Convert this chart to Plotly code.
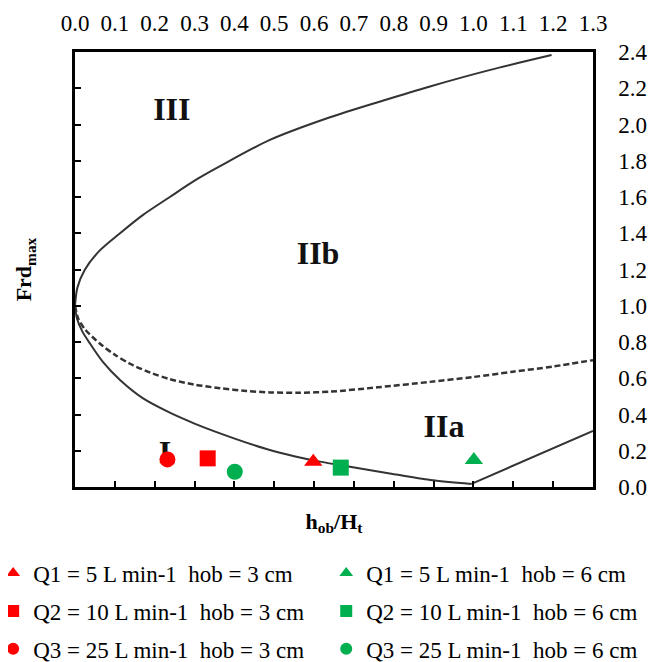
import plotly.graph_objects as go

# ---- data ----
upper_x = [0.0, 0.006, 0.025, 0.06, 0.113, 0.17, 0.238, 0.30, 0.364, 0.489, 0.64, 0.77, 0.891, 1.04, 1.196]
upper_y = [1.0, 1.10, 1.20, 1.30, 1.40, 1.50, 1.60, 1.69, 1.77, 1.915, 2.04, 2.13, 2.21, 2.30, 2.383]

lower_x = [0.0, 0.005, 0.018, 0.038, 0.07, 0.113, 0.17, 0.238, 0.30, 0.364, 0.43, 0.489, 0.55, 0.615, 0.69, 0.79, 0.891, 0.995]
lower_y = [1.0, 0.93, 0.86, 0.79, 0.69, 0.59, 0.49, 0.41, 0.35, 0.296, 0.245, 0.204, 0.17, 0.14, 0.112, 0.075, 0.039, 0.017]

rise_x = [0.995, 1.3]
rise_y = [0.017, 0.31]

dash_x = [0.0, 0.008, 0.025, 0.063, 0.10, 0.138, 0.19, 0.238, 0.30, 0.364, 0.43, 0.489, 0.56, 0.64, 0.76, 0.891, 1.00, 1.099, 1.2, 1.3]
dash_y = [1.0, 0.93, 0.87, 0.79, 0.73, 0.68, 0.63, 0.595, 0.565, 0.545, 0.53, 0.522, 0.52, 0.526, 0.55, 0.58, 0.607, 0.636, 0.665, 0.70]

region_labels = ["III", "IIb", "IIa", "I"]
region_x = [0.243, 0.61, 0.926, 0.226]
region_y = [2.069, 1.274, 0.32, 0.178]

series_names = [
    "Q1 = 5 L min-1  hob = 3 cm", "Q1 = 5 L min-1  hob = 6 cm",
    "Q2 = 10 L min-1  hob = 3 cm", "Q2 = 10 L min-1  hob = 6 cm",
    "Q3 = 25 L min-1  hob = 3 cm", "Q3 = 25 L min-1  hob = 6 cm",
]
series_x = [0.598, 1.001, 0.333, 0.667, 0.232, 0.401]
series_y = [0.14, 0.149, 0.158, 0.107, 0.152, 0.084]
series_symbols = ["triangle-up", "triangle-up", "square", "square", "circle", "circle"]
series_colors = ["#FF0000", "#00B050", "#FF0000", "#00B050", "#FF0000", "#00B050"]

x_ticks = [round(i * 0.1, 1) for i in range(14)]
y_ticks = [round(i * 0.2, 1) for i in range(13)]

FONT = "Liberation Serif, Times New Roman, serif"
LINE_COL = "#333333"

fig = go.Figure()

# region labels (drawn first so markers sit on top)
fig.add_trace(go.Scatter(
    x=region_x, y=region_y, mode="text", text=[f"<b>{t}</b>" for t in region_labels],
    textfont=dict(family=FONT, size=32, color="#111111"), showlegend=False, hoverinfo="skip"))

spl = dict(color=LINE_COL, width=2, shape="spline", smoothing=0.8)
fig.add_trace(go.Scatter(x=upper_x, y=upper_y, mode="lines", line=spl, showlegend=False))
fig.add_trace(go.Scatter(x=lower_x, y=lower_y, mode="lines", line=spl, showlegend=False))
fig.add_trace(go.Scatter(x=rise_x, y=rise_y, mode="lines", line=dict(color=LINE_COL, width=2),
                         showlegend=False))
fig.add_trace(go.Scatter(x=dash_x, y=dash_y, mode="lines",
                         line=dict(color=LINE_COL, width=2.5, shape="spline", smoothing=0.8, dash="6px,3px"),
                         showlegend=False))

legend_ids = ["legend", "legend2", "legend3", "legend4", "legend5", "legend6"]
for name, xv, yv, sym, col, lg in zip(series_names, series_x, series_y, series_symbols, series_colors, legend_ids):
    fig.add_trace(go.Scatter(
        x=[xv], y=[yv], mode="markers", name=name.replace("  ", "\u00a0\u00a0"),
        marker=dict(symbol=sym, size=16, color=col, line=dict(width=0)),
        legend=lg))

axis_common = dict(showgrid=False, zeroline=False, showline=True, linecolor="black", linewidth=2.5,
                   automargin=False)

fig.update_layout(
    width=650, height=654, autosize=False,
    margin=dict(l=67, r=65, t=44, b=175, autoexpand=False),
    paper_bgcolor="white", plot_bgcolor="white",
    font=dict(family=FONT, color="black"),
    xaxis=dict(range=[0, 1.3], side="top", tickvals=x_ticks, tickformat=".1f", ticks="",
               tickfont=dict(family=FONT, size=23, color="black"), ticklabelstandoff=9,
               **axis_common),
    xaxis2=dict(range=[0, 1.3], overlaying="x", side="bottom", anchor="y",
                tickvals=x_ticks[1:-1], ticks="inside", ticklen=6, tickwidth=2, tickcolor="black",
                showticklabels=False,
                title=dict(text="<b>h<sub>ob</sub>/H<sub>t</sub></b>", font=dict(family=FONT, size=22),
                           standoff=25),
                **axis_common),
    yaxis=dict(range=[0, 2.4], side="right", tickvals=y_ticks, tickformat=".1f", ticks="",
               tickfont=dict(family=FONT, size=23, color="black"), ticklabelstandoff=18,
               **axis_common),
    yaxis2=dict(range=[0, 2.4], overlaying="y", side="left", anchor="x",
                tickvals=y_ticks[1:-1], ticks="inside", ticklen=6, tickwidth=2, tickcolor="black",
                showticklabels=False,
                title=dict(text="<b>Frd<sub>max</sub></b>", font=dict(family=FONT, size=22),
                           standoff=35),
                **axis_common),
)

leg_x = [-0.158, 0.485]
leg_y = [-0.1977, -0.285, -0.3720]
leg_common = dict(orientation="h", xanchor="left", yanchor="middle", itemsizing="constant",
                  font=dict(family=FONT, size=23, color="black"), bgcolor="rgba(0,0,0,0)")
legend_layout = {}
for i, lg in enumerate(legend_ids):
    legend_layout[lg] = dict(x=leg_x[i % 2], y=leg_y[i // 2], **leg_common)
fig.update_layout(**legend_layout)

# dummy trace to activate the secondary axes
fig.add_trace(go.Scatter(x=[None], y=[None], xaxis="x2", yaxis="y2", showlegend=False, hoverinfo="skip"))

fig.write_html("out.html")
